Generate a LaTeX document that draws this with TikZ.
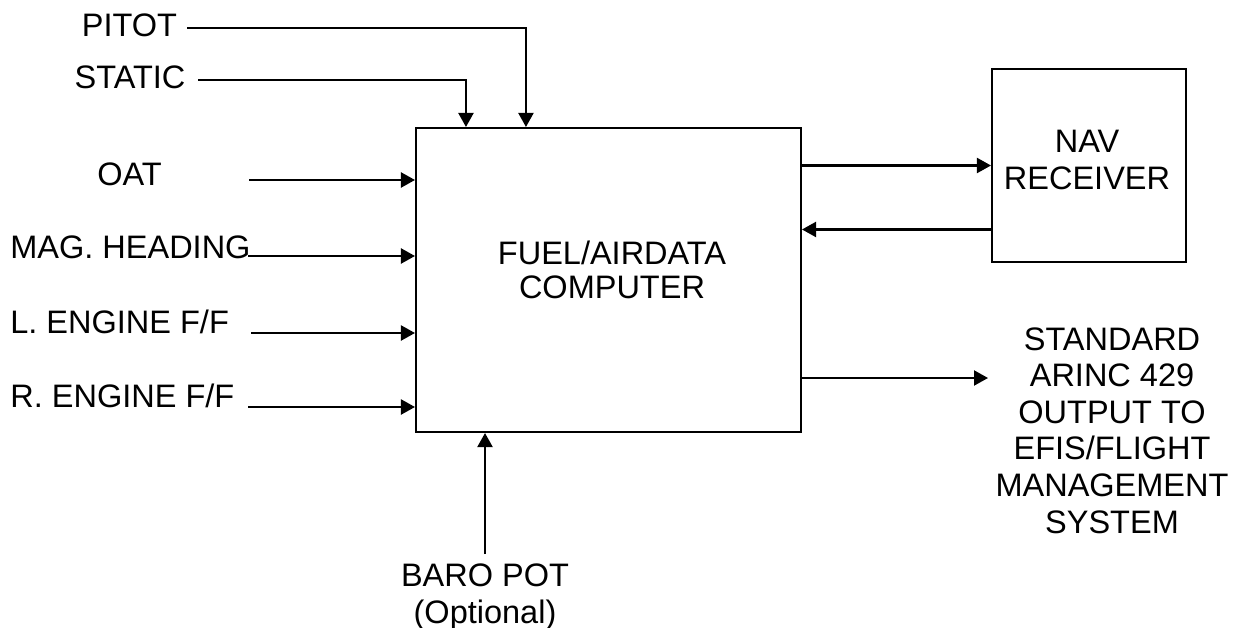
\documentclass[tikz,border=0pt]{standalone}
\usepackage{fontspec}
\setmainfont{Liberation Sans}
\usetikzlibrary{arrows.meta}

\begin{document}
\begin{tikzpicture}[
  x=0.02cm, y=-0.02cm,
  % ── node styles ──────────────────────────────────────────────────────────
  unit/.style={
    draw=black, line width=1.2pt,
    rectangle, inner sep=0pt
  },
  txt/.style={
    inner sep=0pt, align=center,
    font=\fontsize{18.5}{20.8}\selectfont
  },
  boxtxt/.style={
    txt, font=\fontsize{18.5}{19.1}\selectfont
  },
  % signal lines with a filled triangle head
  sig/.style={
    draw=black, line width=1.2pt,
    -{Triangle[length=0.28cm,width=0.3cm]}
  },
]

\useasboundingbox (0,0) rectangle (1243,628);

% ── Units ───────────────────────────────────────────────────────────────────
\node[unit, minimum width=7.7cm, minimum height=6.08cm] (fadc) at (608.5,280) {};
\node[boxtxt] (fadctxt) at (612,270) {FUEL/AIRDATA\\COMPUTER};
\node[unit, minimum width=3.88cm, minimum height=3.86cm] (nav) at (1089,165.5) {};
\node[txt] (navtxt) at (1087,160) {NAV\\RECEIVER};

% ── Input labels ────────────────────────────────────────────────────────────
\node[txt] (pitot)  at (129.5,25) {PITOT};
\node[txt] (static) at (130,77)   {STATIC};
\node[txt] (oat)    at (129.5,174) {OAT};
\node[txt, anchor=west] (maghdg) at (10,247) {MAG. HEADING};
\node[txt, anchor=west] (lengff) at (10,322) {L. ENGINE F/F};
\node[txt, anchor=west] (rengff) at (10,396) {R. ENGINE F/F};
\node[txt, anchor=north] (baro) at (485,563.7) {BARO POT\\(Optional)};

% ── Output label ────────────────────────────────────────────────────────────
\node[txt] (arinc) at (1112,430.5)
  {STANDARD\\ARINC 429\\OUTPUT TO\\EFIS/FLIGHT\\MANAGEMENT\\SYSTEM};

% ── Pitot / static lines into the top ───────────────────────────────────────
\coordinate (pitot-in)  at (187,28);
\coordinate (static-in) at (198,80);
\draw[sig] (pitot-in)  -| ([xshift=2.22cm]fadc.north west);
\draw[sig] (static-in) -| ([xshift=1.02cm]fadc.north west);

% ── Side inputs ─────────────────────────────────────────────────────────────
\foreach \sg/\xx/\yy in {oat/249/180, maghdg/248/256, lengff/251/333, rengff/248/407}{
  \coordinate (\sg-in) at (\xx,\yy);
  \draw[sig] (\sg-in) -- (\sg-in -| fadc.west);
}

% ── Baro pot from below ─────────────────────────────────────────────────────
\coordinate (baro-in) at (485,554);
\draw[sig] (baro-in) -- (baro-in |- fadc.south);

% ── Nav receiver link ───────────────────────────────────────────────────────
\draw[sig] (fadc.east |- nav.west) -- (nav.west);
\coordinate (nav-ret) at ([yshift=-1.28cm]nav.west);
\draw[sig] (nav-ret) -- (nav-ret -| fadc.east);

% ── ARINC 429 output ────────────────────────────────────────────────────────
\coordinate (arinc-out) at (988,378);
\draw[sig] (arinc-out -| fadc.east) -- (arinc-out);

\end{tikzpicture}
\end{document}
